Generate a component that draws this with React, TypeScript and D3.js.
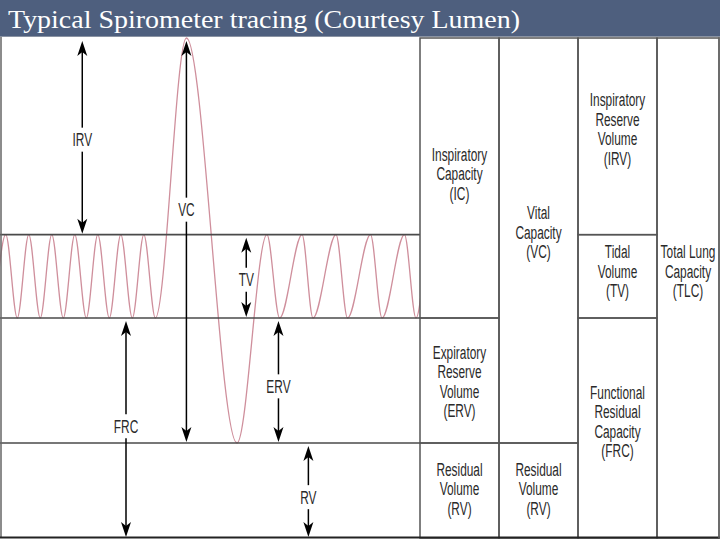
import React from "react";
import * as d3 from "d3";

// ---- data (volumes in litres, time in seconds) ----
const levelNames = ["zero", "RV", "FRC", "EIL", "TLC"];
const levelValues = [0, 1.14, 2.64, 3.64, 6.0];
const level = (n: string) => levelValues[levelNames.indexOf(n)];

// Extrema of the tracing: time (s) and volume level reached
const traceTimes = [-1.0, 1.0, 3.0, 5.0, 7.0, 9.0, 11.0, 13.0, 15.0, 17.0, 19.0, 21.0, 23.0, 25.0, 27.0, 32.4, 41.2, 46.4, 48.6, 52.5, 54.4, 58.4, 60.4, 64.4, 66.4, 70.3, 72.3, 74.2];
const traceLevels = ["FRC", "EIL", "FRC", "EIL", "FRC", "EIL", "FRC", "EIL", "FRC", "EIL", "FRC", "EIL", "FRC", "EIL", "FRC", "TLC", "RV", "EIL", "FRC", "EIL", "FRC", "EIL", "FRC", "EIL", "FRC", "EIL", "FRC", "EIL"];

// Arrows on the tracing
const arrowNames = ["IRV", "VC", "TV", "FRC", "ERV", "RV"];
const arrowTimes = [14.3, 32.4, 42.8, 21.9, 48.4, 53.6];
const arrowFrom = ["TLC", "TLC", "EIL", "FRC", "FRC", "RV"];
const arrowTo = ["EIL", "RV", "FRC", "zero", "RV", "zero"];
const arrowLabelVol = [4.78, 3.94, 3.1, 1.34, 1.82, 0.49];

// Table of lung volumes / capacities: column, top level, bottom level, label lines, label centre volume
const cellCols = [0, 0, 0, 1, 1, 2, 2, 2, 3];
const cellTop = ["TLC", "FRC", "RV", "TLC", "RV", "TLC", "EIL", "FRC", "TLC"];
const cellBottom = ["FRC", "RV", "zero", "RV", "zero", "EIL", "FRC", "zero", "zero"];
const cellLabelVol = [4.37, 1.88, 0.59, 3.67, 0.59, 4.91, 3.2, 1.4, 3.2];
const cellLabels = [
  ["Inspiratory", "Capacity", "(IC)"],
  ["Expiratory", "Reserve", "Volume", "(ERV)"],
  ["Residual", "Volume", "(RV)"],
  ["Vital", "Capacity", "(VC)"],
  ["Residual", "Volume", "(RV)"],
  ["Inspiratory", "Reserve", "Volume", "(IRV)"],
  ["Tidal", "Volume", "(TV)"],
  ["Functional", "Residual", "Capacity", "(FRC)"],
  ["Total Lung", "Capacity", "(TLC)"],
];
const tableColumns = ["c0", "c1", "c2", "c3"];

const title = "Typical Spirometer tracing (Courtesy Lumen)";

const W = 720;
const H = 540;

export default function App() {
  const y = d3.scaleLinear().domain([0, 6]).range([538, 38]);
  const x = d3.scaleLinear().domain([0, 73]).range([0, 420]);
  const colX = d3.scaleBand().domain(tableColumns).range([420, 736]).paddingInner(0);
  const colW = 79;

  const pts: [number, number][] = traceTimes.map((t, i) => [x(t), y(level(traceLevels[i]))]);
  const line = d3.line().curve(d3.curveMonotoneX);
  const tracePath = line(pts) || "";

  const font = "'Liberation Sans', Arial, sans-serif";
  const sx = 0.66;
  const gap = 19.5;

  const arrowHead = (tipX: number, tipY: number, dir: number) => {
    const L = 15, hw = 5, notch = 4;
    const by = tipY - dir * L;
    const ny = tipY - dir * (L - notch);
    return `M${tipX},${tipY} L${tipX - hw},${by} L${tipX},${ny} L${tipX + hw},${by} Z`;
  };

  return (
    <div style={{ position: "fixed", left: 0, top: 0 }}>
      <svg width={W} height={H} style={{ display: "block", background: "#fff" }}>
        <rect x={0} y={0} width={W} height={H} fill="#fff" />
        {/* title bar */}
        <rect x={0} y={0} width={W} height={36} fill="#4e5f7e" />
        <line x1={0} x2={W} y1={36.5} y2={36.5} stroke="#8a93a3" strokeWidth={1} />
        <text
          x={8}
          y={28}
          fontFamily="'Liberation Serif', 'Times New Roman', serif"
          fontSize={25}
          fill="#fff"
          textLength={512}
          lengthAdjust="spacingAndGlyphs"
        >
          {title}
        </text>

        {/* tracing */}
        <clipPath id="tr">
          <rect x={0} y={37} width={420} height={502} />
        </clipPath>
        <path d={tracePath} fill="none" stroke="#cf8f9c" strokeWidth={1.3} clipPath="url(#tr)" />

        {/* horizontal reference lines on the tracing */}
        {["EIL", "FRC", "RV"].map((n) => (
          <line key={n} x1={0} x2={420} y1={y(level(n))} y2={y(level(n))} stroke="#4a4a4a" strokeWidth={1.6} />
        ))}
        <line x1={1} x2={1} y1={37} y2={538} stroke="#666" strokeWidth={1.5} />

        {/* table */}
        {cellCols.map((c, i) => {
          const x0 = colX(tableColumns[c]) as number;
          const w = c === 3 ? 62 : colW;
          const y0 = y(level(cellTop[i]));
          const y1 = y(level(cellBottom[i]));
          const cy = y(cellLabelVol[i]);
          const n = cellLabels[i].length;
          return (
            <g key={"cell" + i}>
              <rect x={x0} y={y0} width={w} height={y1 - y0} fill="none" stroke="#555" strokeWidth={1.5} />
              {cellLabels[i].map((s, j) => (
                <text
                  key={j}
                  transform={`translate(${x0 + w / 2},${cy + (j - (n - 1) / 2) * gap + 6.5}) scale(${sx},1)`}
                  textAnchor="middle"
                  fontFamily={font}
                  fontSize={18}
                  fill="#2a2a2a"
                >
                  {s}
                </text>
              ))}
            </g>
          );
        })}

        {/* arrows */}
        {arrowNames.map((n, i) => {
          const ax = x(arrowTimes[i]);
          const yTop = y(level(arrowFrom[i])) + 3;
          const yBot = y(level(arrowTo[i])) - 1;
          const ly = y(arrowLabelVol[i]);
          return (
            <g key={"a" + n}>
              <line x1={ax} x2={ax} y1={yTop + 8} y2={ly - 12} stroke="#000" strokeWidth={1.5} />
              <line x1={ax} x2={ax} y1={ly + 12} y2={yBot - 8} stroke="#000" strokeWidth={1.5} />
              <path d={arrowHead(ax, yTop, -1)} fill="#000" />
              <path d={arrowHead(ax, yBot, 1)} fill="#000" />
              <text
                transform={`translate(${ax},${ly + 6.5}) scale(${sx},1)`}
                textAnchor="middle"
                fontFamily={font}
                fontSize={18}
                fill="#2a2a2a"
              >
                {n}
              </text>
            </g>
          );
        })}

        {/* bottom and right borders */}
        <line x1={0} x2={W} y1={537.5} y2={537.5} stroke="#222" strokeWidth={2} />
        <line x1={719} x2={719} y1={37} y2={538} stroke="#666" strokeWidth={1.5} />
      </svg>
    </div>
  );
}
